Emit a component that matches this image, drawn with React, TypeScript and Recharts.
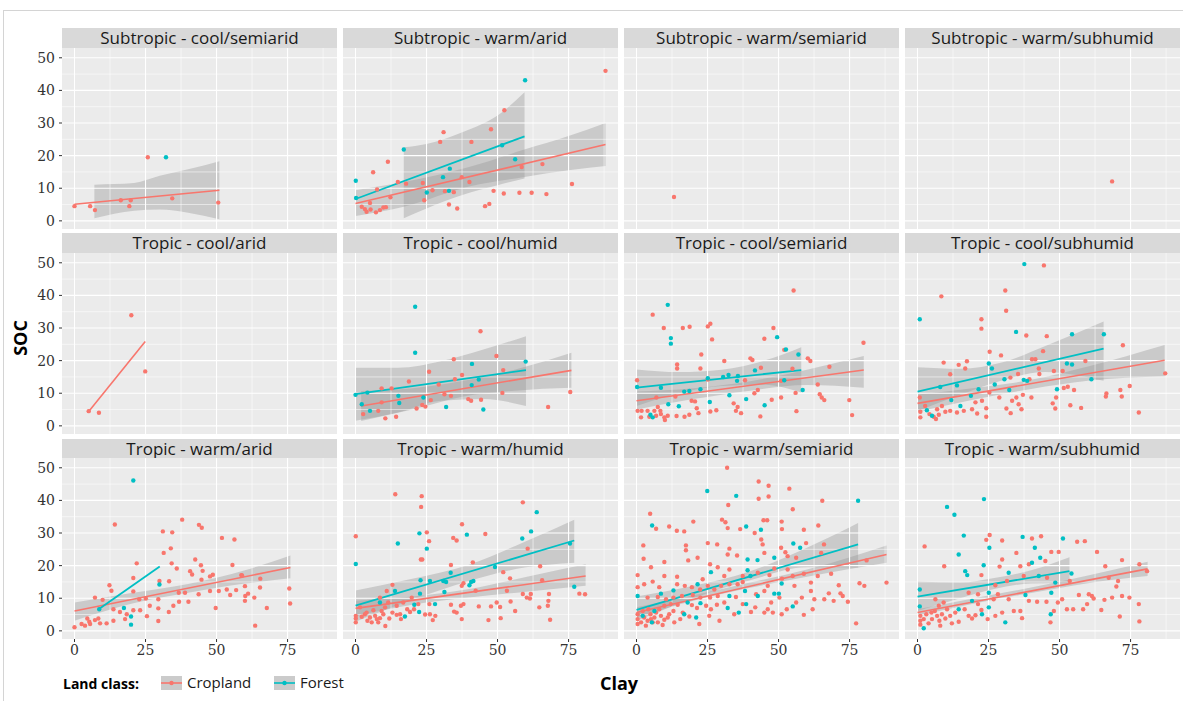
import React from 'react';
import { ComposedChart, Scatter, Line, Area, XAxis, YAxis, ReferenceLine } from 'recharts';

// ---------- colours / scales ----------
const CROP = '#F8766D';
const FOREST = '#00BFC4';
const X_DOMAIN: [number, number] = [-4.4, 92.4];
const Y_DOMAIN: [number, number] = [-2.5, 53];
const xTicks = [0, 25, 50, 75];
const yTicks = [0, 10, 20, 30, 40, 50];
const xMinor = [12.5, 37.5, 62.5, 87.5];
const yMinor = [5, 15, 25, 35, 45];

const panelTitles = [
  'Subtropic - cool/semiarid', 'Subtropic - warm/arid', 'Subtropic - warm/semiarid', 'Subtropic - warm/subhumid',
  'Tropic - cool/arid', 'Tropic - cool/humid', 'Tropic - cool/semiarid', 'Tropic - cool/subhumid',
  'Tropic - warm/arid', 'Tropic - warm/humid', 'Tropic - warm/semiarid', 'Tropic - warm/subhumid',
];

type Pt = [number, number];
type Bd = [number, number, number];

// ---------- Subtropic - cool/semiarid ----------
const p1Crop: Pt[] = [[0,4.5],[5.5,4.5],[7.2,3.3],[16.3,6.3],[19.8,6.3],[19.3,4.5],[25.8,19.5],[34.4,6.9],[50.6,5.6]];
const p1Forest: Pt[] = [[32.2,19.5]];
const p1CropFit: Pt[] = [[0,5.1],[51,9.4]];
const p1CropBand: Bd[] = [[7,0.8,11.1],[14,2.2,11.3],[21,3.1,11.6],[30,3.5,13.8],[40,2.5,15.8],[51,0.5,18.3]];

// ---------- Subtropic - warm/arid ----------
const p2Forest: Pt[] = [[0.1,12.3],[17,21.9],[59.7,43.1],[33.2,16],[30.8,13.4],[25.1,8.7],[32.9,9.2],[56.2,18.9],[51.6,23.2],[0.2,7]];
const p2Crop: Pt[] = [[88,46],[52.4,33.9],[47.7,28.1],[31,27.2],[29.8,24.2],[40.8,24.2],[11.4,18.1],[6.2,14.9],[14.9,11.9],[17.8,11.4],[23.7,11.6],[27.1,9.4],[37.4,13.4],[40.1,11.9],[58.5,16.5],[65.8,17.4],[76.2,11.3],[24.2,6.3],[31.5,9.1],[34.6,8.8],[32.9,5],[35.8,3.8],[45.6,4.5],[47.1,5.2],[48.6,9.2],[52.2,8.4],[57.7,8.6],[62,8.6],[67.2,8.2],[7.6,9.6],[12.3,7.2],[2.2,4.3],[3.9,2.8],[5.1,5.5],[7.2,2.6],[8.6,3.3],[9.8,4.1],[5.3,3.5],[10.7,4.2],[3.3,3.6]];
const p2ForestFit: Pt[] = [[0,6.7],[59.5,25.9]];
const p2CropFit: Pt[] = [[0,5.3],[88,23.4]];
const p2CropBand: Bd[] = [[0,1.5,9.4],[17,4.3,11.9],[40,10.5,16.5],[60,13.5,22],[75,15.5,26],[88,16.8,30]];
const p2ForestBand: Bd[] = [[17,0.8,22.6],[25,3.8,23.6],[37.6,7.9,27.2],[50,10.9,32.3],[59.5,13,39.4]];

// ---------- Subtropic - warm/semiarid & warm/subhumid ----------
const p3Crop: Pt[] = [[13.2,7.3]];
const p4Crop: Pt[] = [[68.5,12.1]];

// ---------- Tropic - cool/arid ----------
const p5Crop: Pt[] = [[5,4.5],[8.6,4],[20,33.9],[24.9,16.7]];
const p5CropFit: Pt[] = [[5,4.4],[24.9,25.9]];

// ---------- Tropic - cool/humid ----------
const p6Forest: Pt[] = [[0,9.5],[21,36.5],[21,22.4],[41,19],[59.9,19.7],[31.9,5.8],[45,5],[23.9,8.7],[15.1,9.2],[15.4,7],[2.2,6.6],[4.2,10.2],[5.1,4.6],[43.4,14.2],[40.9,12.5]];
const p6Crop: Pt[] = [[44,29],[34.6,20.4],[49.6,21.4],[25.9,16.6],[37.5,15.6],[52,17.1],[18.8,13.6],[9.2,11.5],[12.7,11.5],[35,14.3],[29.3,12.7],[26.5,7.9],[31.3,9.7],[33.6,9.2],[39.7,8.2],[40.7,7.7],[44.2,8],[51.7,10.1],[75.6,10.4],[67.8,5.8],[21.5,5.3],[23.5,6.4],[24.6,5.9],[10.5,2.3],[14.3,2.8],[8,4.6],[2.7,3.6],[9.2,7.2]];
const p6ForestFit: Pt[] = [[0,9.7],[60,17.1]];
const p6CropFit: Pt[] = [[2,6.1],[76,17]];
const p6ForestBand: Bd[] = [[0,1.6,17.8],[15,4.1,17.8],[30,7.7,19.8],[45,8.2,23.4],[60,6.1,27.5]];
const p6CropBand: Bd[] = [[2,1.5,10.7],[20,5,11.5],[38,9,13.8],[56,10.8,17.2],[76,11.7,22.4]];

// ---------- Tropic - cool/semiarid ----------
const p7Forest: Pt[] = [[11,37.1],[12.1,26.9],[12.1,25.2],[49.5,27.2],[52.6,23.4],[57,21.9],[41.7,17],[0.2,11.9],[8.6,11.7],[16.8,10.5],[18.6,10.7],[22.5,11.2],[25.1,14.6],[30.5,15],[32.4,15.6],[35.7,15.3],[35.4,13.8],[32.7,9.4],[38.6,8.2],[45.1,6.3],[25.8,7.3],[14.9,6],[11.2,6.6],[4.9,3.4],[5.7,2.6],[58.5,11],[52,14]];
const p7Crop: Pt[] = [[55.3,41.5],[5.7,34.1],[9.6,30],[16.3,30],[18.7,30.4],[25.1,30.5],[26,31.3],[26.6,26.5],[45,26.7],[48.2,30],[52,23.3],[79.9,25.5],[22.8,21.9],[30.9,19.9],[40.1,20.7],[40.8,20.2],[60.3,20.7],[61.2,19.9],[67.9,18.1],[14.3,18.8],[14.3,17.6],[22.5,17.6],[43.8,17.8],[54.9,17.5],[0.2,14],[25.1,14.2],[38.2,14],[50.9,13.8],[63.8,12.7],[7,8.7],[13.7,9],[19.4,7.7],[20.6,7.5],[34.2,6.9],[35.6,5.8],[41.5,10],[42.7,11],[47.6,8],[50.9,8.7],[56,10.1],[56.3,4.5],[64.5,9.7],[65.2,8.7],[66.1,7.9],[74.9,7.9],[75.9,3.3],[43.6,2.9],[36.8,3.9],[35,4.6],[28.1,4.8],[26,4.4],[21.8,3.9],[21.2,5.4],[18.6,3.4],[16.9,2.8],[14.1,3],[11,3.1],[9.8,2.6],[10,1.8],[8.4,4.6],[7.5,5.8],[6.3,4.6],[3.9,4.6],[1.8,4.6],[0.4,4.6],[1.6,2.6],[6.9,3.1],[8.6,3.6],[4.5,2.8]];
const p7ForestFit: Pt[] = [[0,11.7],[58,17.1]];
const p7CropFit: Pt[] = [[0,7.7],[80,17.1]];
const p7ForestBand: Bd[] = [[0,6.1,17.3],[15,10,16.5],[30,12.2,17.2],[45,12.6,20],[58,10.2,24.1]];
const p7CropBand: Bd[] = [[0,5,10.5],[20,8.2,11.5],[40,10.8,13.7],[60,12.5,17.2],[80,11.7,21.4]];

// ---------- Tropic - cool/subhumid ----------
const p8Forest: Pt[] = [[37.6,49.6],[0.8,32.7],[34.7,28.8],[54.4,28.1],[65.6,28.1],[25.1,19.1],[26.2,17.6],[27.2,12.7],[30.6,14.3],[38.6,13.8],[37.4,14.1],[52.6,19.1],[54.4,18.8],[61.2,14.3],[49.1,11.2],[21.5,11.2],[13.9,12.4],[8,11.9],[18.8,9.2],[11.9,7.9],[15.1,6.1],[3.3,4.8],[5.1,3.1],[32.3,11]];
const p8Crop: Pt[] = [[44.5,49.2],[8.4,39.7],[30.9,41.5],[31.2,35.3],[22.5,32.7],[22.5,29.8],[38.3,27.7],[45.5,27.5],[72.3,24.7],[25.4,22.7],[29.4,21.6],[44.2,22.9],[9.2,19.4],[14.5,18.7],[17.4,19.8],[16.8,17.6],[11.5,15.8],[40.3,20.4],[41.5,20.4],[42.7,17.6],[35.4,15.9],[32.7,14.8],[48,16.8],[51.1,16.8],[59.1,19.9],[87.2,16.1],[39.4,14.3],[42.9,15.9],[51.5,11.6],[52.9,12],[55.1,11],[74.7,12.2],[71.4,11],[71.9,9],[66.5,9.9],[66.3,9],[77.9,4.1],[57.6,5.5],[53.8,6.3],[48.8,8.7],[47.6,6.9],[48.5,5.3],[40.1,8.7],[37.1,9.5],[34.8,8.7],[33.3,7.7],[35.6,6.6],[36.6,5.1],[32.8,3.9],[31.3,5.3],[28.8,8.7],[25.3,10.2],[22.7,7.7],[24.2,5.4],[21,3.8],[24.2,2.8],[19.2,5.1],[16.3,4.6],[13.9,4.1],[11.5,4.6],[9.8,4.3],[7.5,3.4],[6.5,2.1],[5.7,2.8],[4.2,3.6],[2.7,6.1],[1,4.3],[1,2.6],[0.8,8.7],[8.6,6.1],[6.9,5.1],[20.4,7.2]];
const p8ForestFit: Pt[] = [[0,10.5],[65.5,23.7]];
const p8CropFit: Pt[] = [[0,6.9],[87,20.1]];
const p8ForestBand: Bd[] = [[0,4.5,18],[15,9.5,17.5],[30,14,19.5],[45,16.5,24.5],[65.5,13.8,32]];
const p8CropBand: Bd[] = [[0,4.3,9.6],[20,8.1,11.6],[40,11.3,14.1],[60,13.8,18.2],[87,15.2,24.8]];

// ---------- Tropic - warm/arid ----------
const p9Forest: Pt[] = [[20.7,46.1],[29.9,14.2],[17.4,7],[19.9,4.4],[19.9,1.9],[8.7,6.6]];
const p9Crop: Pt[] = [[0,1.1],[7.2,10.2],[9.9,9.5],[14.2,32.6],[12.3,14],[13,12.3],[21.9,20.7],[20.7,16.2],[20.7,12.1],[31.1,30.5],[34.4,30.2],[37.9,34.1],[31.4,23.9],[33.9,25.3],[34.2,20.7],[36,19.1],[43.8,32.5],[44.8,31.6],[51.9,28.5],[56.3,28],[42.5,21.9],[40.7,18.3],[41.4,17.3],[44.5,20.1],[45.1,18.4],[48.7,17.2],[47.7,16.7],[44.7,15.7],[55.6,20.2],[58.7,17.1],[29.9,15.3],[33.3,15.2],[38.9,11.7],[43.7,11.2],[47.7,12.2],[50.8,12.2],[53.6,12.7],[54.8,11],[56.9,12.5],[60,13.7],[60.1,10.7],[61.1,11.4],[60,9.2],[59,17],[65.3,13.3],[65.4,16],[63.3,10.2],[63.6,1.6],[67.7,7],[75.6,13],[75.9,8.4],[34.8,7.7],[33.2,5.8],[29.5,9.7],[29.5,6.9],[29.5,3],[36.7,11.7],[36.8,8.9],[40.1,8.9],[49.7,7],[26.5,7.7],[25.5,4.5],[25.1,9.9],[23.1,6.3],[20.7,6.3],[16,5.8],[18.4,5.1],[13.7,6.6],[13.7,3.1],[11.3,2.3],[9,2.3],[8.4,3.8],[7.2,3.3],[5.5,2.1],[4.5,3.8],[3.7,1.6],[2.5,2.1],[5.2,2.8],[17.8,3.6],[22.8,9.7]];
const p9ForestFit: Pt[] = [[8.5,6.6],[30,19.7]];
const p9CropFit: Pt[] = [[0,6.1],[76,19.4]];
const p9CropBand: Bd[] = [[0,3.1,8.7],[20,8.3,11.6],[40,11.7,14.4],[60,14.5,18.6],[76,16.1,23.1]];

// ---------- Tropic - warm/humid ----------
const p10Forest: Pt[] = [[0.1,20.5],[63.8,36.4],[61.8,30.5],[58.7,28.3],[39.2,29.5],[22.5,29.9],[25.1,25.2],[14.9,26.8],[75.5,26.8],[77,13.5],[49.1,19.6],[33.5,17.8],[30.9,15.3],[26.2,15.3],[22.9,15.5],[13.9,12.2],[22.7,11.4],[31.3,11.9],[40.1,14],[40.7,15],[41.5,15.3],[31.9,15],[20.7,8],[28,8.2],[17.4,4.4],[22.4,5.8],[8.6,8.7]];
const p10Crop: Pt[] = [[14,41.9],[23.3,41.3],[23.1,38],[58.9,39.4],[0.1,29],[25.1,30.2],[25.9,27.5],[37.5,32.7],[45.7,29.7],[34.4,28.5],[35.6,27.7],[23,21.9],[23.5,21.9],[33.6,20.2],[41.3,21],[60.6,25.2],[65,19.8],[54.4,16.1],[65.7,15.5],[52,18],[42.3,12.3],[53.3,12.3],[13,14.1],[11,12.2],[38,14.6],[37.4,13.8],[58.9,11.3],[61.7,11.3],[68.1,11.3],[78.8,11.4],[80.8,11.2],[60.3,10.2],[61.4,9.9],[67.9,9.2],[67.7,7.7],[64.7,7.2],[54.6,9],[56.2,6.1],[51.1,3.9],[46.8,3.3],[68.5,3.4],[49.7,8.7],[47.7,7.5],[43.4,7.5],[50.9,7.3],[38,8.2],[37.1,7.7],[33.6,8],[35.6,5.6],[37.4,3.6],[34.7,5.9],[28.1,4.6],[27.2,3.3],[26,8.2],[26.2,5.1],[24.5,5],[22.1,8.2],[20.6,6.6],[19.2,5.8],[18.2,6.6],[15.7,5.1],[16,3.6],[14.5,4.9],[13,5.6],[11.9,3.8],[10.5,1.5],[9.8,5.1],[8.6,3.9],[7.5,3.6],[6.9,4.6],[5.7,2.6],[5.1,4.1],[4.2,3.1],[3.3,5.1],[2.2,4.3],[0.1,3.8],[0.1,2.6],[0.1,4.6],[6.3,6.3],[3.9,5.6],[8,2.6],[9.2,6.1],[10.4,7.2],[11.5,8.7],[14.5,7.7],[16.8,8.7],[19.8,10.2],[8.6,10.2],[1.6,7.2]];
const p10ForestFit: Pt[] = [[0,7.7],[77,27.7]];
const p10CropFit: Pt[] = [[0,6.9],[81,16.8]];
const p10ForestBand: Bd[] = [[0,2.8,12.4],[20,9.5,16],[40,15.3,20.3],[60,19.5,27.5],[77,20.9,34.1]];
const p10CropBand: Bd[] = [[0,4.5,9.2],[20,8,10.5],[40,10.2,12.8],[60,12,16.5],[81,13.8,20.4]];

// ---------- Tropic - warm/semiarid ----------
const p11Forest: Pt[] = [[24.9,42.9],[35.1,41.4],[78,39.9],[5.5,32.3],[38.6,32],[43.8,31],[57.6,25.5],[55.2,26.8],[39.1,21.9],[42.6,21.7],[48.5,22.4],[39.1,18.6],[40.1,16.8],[26.2,18],[21.5,14.3],[13,12.4],[8.6,11.4],[0.4,10.7],[18,8.7],[22.5,8.5],[32.1,7],[36,5.6],[38.6,8.2],[38.2,12.2],[32.7,10.7],[48.5,11.4],[51.1,14.5],[50.1,11.4],[55,7.5],[42.7,10.7],[21,4.1],[5.4,2.6],[2.2,4.6],[6.3,6.1],[16.8,5.1]];
const p11Crop: Pt[] = [[31.9,50],[43,45.8],[46.5,44.5],[53.8,43.6],[43,40.5],[46.5,41.2],[65.4,39.9],[32.3,38.6],[55,37.3],[4.8,35.9],[30.1,34.1],[31.3,33.3],[20,33.5],[44.7,33.9],[46,33.9],[51.1,33.5],[64,32.3],[11.5,32],[6.9,31.3],[32.1,31.5],[36.5,31.2],[51.2,31.2],[14.2,30.7],[16.8,30.5],[41.6,30],[58.9,31],[25.1,26.9],[28.4,26.5],[32.7,25.2],[2.4,26.2],[17.4,26.2],[17.4,24.7],[43.9,28],[44.4,26.5],[50.9,25.5],[52.4,24.1],[59.7,26.9],[66,26.5],[2.5,22.1],[18.2,21.6],[21.5,22.4],[32.1,23.4],[35.4,23.1],[25.9,20.4],[5.1,19.5],[9.8,21.1],[28.6,19.5],[32.7,18.8],[45,23.9],[53.2,22.9],[56.2,22.4],[65,23.9],[42.7,17.8],[46.8,17.1],[55,16.8],[58.9,17.5],[68.5,17.5],[81,21.6],[78.5,14.6],[80.2,13.8],[88,14.8],[71.2,14],[67.7,11.5],[71.8,11.5],[72.6,10.7],[66.1,9.7],[74.4,8.9],[69.4,9.2],[62.6,9.7],[61.4,12.2],[58.2,10.2],[58.9,4.9],[77.3,2.3],[62,6.6],[56.2,8.7],[52.9,6.6],[51.1,5.1],[50.3,10.2],[47.4,8.7],[46.2,6.6],[48,5.6],[45,5.6],[41.8,7.2],[42.1,11.2],[45,12.2],[46.2,13.8],[51.2,16],[35.6,14.3],[32.7,14.3],[29.8,13.8],[27.4,12.7],[25.1,13.8],[22.4,12.7],[19.5,13.4],[17,13.8],[14.3,14.3],[14.3,16.6],[9.8,16.8],[0.4,17.1],[0.4,13.4],[5.7,15.1],[8,13.4],[2.7,14.3],[37.4,16.8],[30.9,16.8],[23.3,15.8],[28.6,10.7],[25.9,10.2],[22.5,10.2],[19.8,11],[16,10.7],[13,10.2],[10.4,9.7],[7.5,10.4],[3.9,10.2],[35,10.4],[30.9,8.7],[28.3,8],[26.2,6.6],[24.5,7.7],[21.3,7],[19.5,7.9],[14.5,8],[12.1,8.2],[9.8,7.7],[40.3,5.8],[37.4,8.2],[34.4,5.1],[29.2,3.1],[25.6,4.6],[22.1,2.1],[18.6,4.4],[15.4,3.6],[13.3,2.6],[11.5,5.1],[9.8,3.4],[8.6,4.6],[7.5,2.6],[6.3,4.1],[4.9,5.1],[3.9,3.1],[2.7,4.1],[1.6,2.6],[0.4,3.6],[0.4,5.1],[0.4,2.1],[2.2,6.1],[4.2,6.6],[5.7,2.6],[6.9,5.6],[8,6.6],[9.2,1.8],[11,4.1],[13,6.1],[3.3,1.6],[5.1,3.6],[16.3,5.6],[37.4,15],[55.6,13.8],[61.4,14.8],[63.8,16.8],[53.2,18.8],[48.5,19.1]];
const p11ForestFit: Pt[] = [[0,6.4],[78,26.5]];
const p11CropFit: Pt[] = [[0,5.6],[88,23.4]];
const p11ForestBand: Bd[] = [[0,3,10.5],[20,10,13.8],[40,15.5,18.3],[60,19.5,25.5],[78,19.4,33.1]];
const p11CropBand: Bd[] = [[0,4.1,7.2],[20,9.2,10.9],[40,13.2,14.8],[60,16.6,18.8],[88,20.9,26.2]];

// ---------- Tropic - warm/subhumid ----------
const p12Forest: Pt[] = [[23.4,40.4],[10.4,38],[13,35.6],[16.3,29.2],[37,28.8],[51.2,28.3],[14.5,23.4],[41.3,25.5],[25.3,25.5],[23.3,20.1],[16.8,18.3],[17.5,17.1],[40.3,20.9],[43.2,22.4],[32.1,17.8],[42.7,16.8],[48.5,14.8],[54.2,17.6],[38,11],[47.1,11.7],[0.8,12.7],[0.8,7.5],[14.5,6.6],[19.2,9.2],[25.1,11.7],[22.7,5.1],[30.9,2.6],[46.9,5.1],[2.2,0.8],[25.1,7.2]];
const p12Crop: Pt[] = [[2.5,25.9],[9.4,19.8],[25.4,29.4],[24.2,27.9],[29.8,27.7],[40.3,28.3],[43.5,29],[56.2,27.3],[58.9,27.5],[34.8,23.9],[47.1,24.2],[49.7,24.2],[63.2,24.2],[72,21.7],[78.1,20.4],[80.8,18.3],[66.1,19.8],[29.8,21.9],[36.2,19.8],[39.2,20.4],[45,21.4],[28.9,19.7],[22.5,17.1],[27.4,14],[31.5,15.3],[37.4,16.8],[45.6,16.3],[53.6,15.3],[67.3,16.3],[70.6,15.3],[70,13.6],[56.8,11],[61.4,10.7],[68.5,10.2],[72,10.7],[74.6,10.2],[77.9,8.2],[78.1,2.9],[71.2,4.4],[65.8,9.5],[62,9.9],[59.7,8.2],[58.3,6.6],[64.7,6.4],[54.8,6.6],[52.6,6.6],[50.9,9.7],[49.4,8.7],[48,6.1],[46.8,2.6],[45.4,8.9],[42.1,8.9],[39.2,9.2],[36.2,6.1],[36.8,3.9],[33.9,6.1],[29.8,5.6],[27.4,4.6],[24.7,3.6],[22.5,6.4],[20.4,4.8],[18,4.6],[16.6,6.6],[14.5,2.8],[12.1,2.3],[11.5,4.6],[9.8,3.8],[8.6,5.1],[7.7,3.1],[6.9,4.6],[6.1,6.1],[5.1,3.6],[3.9,2.3],[3.1,5.1],[2.2,3.6],[1,3.1],[1,4.6],[1,1.9],[7.5,7.7],[9.2,8.7],[10.4,6.6],[4.9,5.6],[8,1.6],[13.3,5.6],[19.2,3.8],[21.3,8.2],[26.8,9.7],[32.1,9.7],[28.3,11.2],[21.3,11.2],[18,11.7],[6.3,9.7],[60.3,11.2]];
const p12ForestFit: Pt[] = [[0,10.5],[53.5,18.3]];
const p12CropFit: Pt[] = [[0,5.6],[81,19]];
const p12ForestBand: Bd[] = [[0,6.1,15.1],[15,10,14.8],[27,12.8,16.2],[40,14.5,18.6],[53.5,14.6,22.6]];
const p12CropBand: Bd[] = [[0,4.6,6.6],[20,8.4,10],[40,11.6,13.3],[60,14.6,17],[81,16.8,21.2]];

type PanelDef = {
  crop: Pt[]; forest: Pt[];
  cropFit?: Pt[]; forestFit?: Pt[];
  cropBand?: Bd[]; forestBand?: Bd[];
};

const panelData: PanelDef[] = [
  { crop: p1Crop, forest: p1Forest, cropFit: p1CropFit, cropBand: p1CropBand },
  { crop: p2Crop, forest: p2Forest, cropFit: p2CropFit, forestFit: p2ForestFit, cropBand: p2CropBand, forestBand: p2ForestBand },
  { crop: p3Crop, forest: [] },
  { crop: p4Crop, forest: [] },
  { crop: p5Crop, forest: [], cropFit: p5CropFit },
  { crop: p6Crop, forest: p6Forest, cropFit: p6CropFit, forestFit: p6ForestFit, cropBand: p6CropBand, forestBand: p6ForestBand },
  { crop: p7Crop, forest: p7Forest, cropFit: p7CropFit, forestFit: p7ForestFit, cropBand: p7CropBand, forestBand: p7ForestBand },
  { crop: p8Crop, forest: p8Forest, cropFit: p8CropFit, forestFit: p8ForestFit, cropBand: p8CropBand, forestBand: p8ForestBand },
  { crop: p9Crop, forest: p9Forest, cropFit: p9CropFit, forestFit: p9ForestFit, cropBand: p9CropBand },
  { crop: p10Crop, forest: p10Forest, cropFit: p10CropFit, forestFit: p10ForestFit, cropBand: p10CropBand, forestBand: p10ForestBand },
  { crop: p11Crop, forest: p11Forest, cropFit: p11CropFit, forestFit: p11ForestFit, cropBand: p11CropBand, forestBand: p11ForestBand },
  { crop: p12Crop, forest: p12Forest, cropFit: p12CropFit, forestFit: p12ForestFit, cropBand: p12CropBand, forestBand: p12ForestBand },
];

// ---------- layout ----------
const COL_X = [62, 343, 624, 905];
const ROW_Y = [28, 233, 438.5];
const STRIP_H = 19.5;
const PANEL_W = 275;
const PANEL_H = 181;
const Y_AXIS_W = 62;
const X_AXIS_H = 30;

const SANS = '"Open Sans", "DejaVu Sans", sans-serif';
const SERIF = '"DejaVu Serif", serif';

const toPts = (a: Pt[]) => a.map(([x, y]) => ({ x, y }));
const toBand = (a: Bd[]) => a.map(([x, lo, hi]) => ({ x, band: [lo, hi] }));

const dot = (color: string) => (props: any) => (
  <circle cx={props.cx} cy={props.cy} r={2.2} fill={color} />
);

const tickStyle = { fontFamily: SERIF, fontSize: 14, fill: '#333333' };

function Panel({ idx }: { idx: number }) {
  const col = idx % 4;
  const row = Math.floor(idx / 4);
  const p = panelData[idx];
  const showY = col === 0;
  const showX = row === 2;
  const left = COL_X[col] - (showY ? Y_AXIS_W : 0);
  const top = ROW_Y[row] + STRIP_H;
  const w = PANEL_W + (showY ? Y_AXIS_W : 0);
  const h = PANEL_H + (showX ? X_AXIS_H : 0);
  return (
    <>
      <div
        style={{
          position: 'absolute', left: COL_X[col], top: ROW_Y[row], width: PANEL_W, height: STRIP_H,
          background: '#D9D9D9', fontFamily: SANS, fontSize: 17, color: '#1A1A1A',
          textAlign: 'center', lineHeight: `${STRIP_H}px`, whiteSpace: 'nowrap',
        }}
      >
        {panelTitles[idx]}
      </div>
      <div style={{ position: 'absolute', left: COL_X[col], top, width: PANEL_W, height: PANEL_H, background: '#EBEBEB' }} />
      <div style={{ position: 'absolute', left, top }}>
        <ComposedChart width={w} height={h} margin={{ top: 0, right: 0, bottom: 0, left: 0 }}>
          <XAxis
            type="number" dataKey="x" domain={X_DOMAIN} ticks={xTicks} allowDataOverflow interval={0}
            hide={!showX} height={X_AXIS_H} axisLine={false} tickSize={3} tickMargin={3}
            tickLine={{ stroke: '#333333' }} tick={tickStyle}
          />
          <YAxis
            type="number" dataKey="y" domain={Y_DOMAIN} ticks={yTicks} allowDataOverflow interval={0}
            hide={!showY} width={Y_AXIS_W} axisLine={false} tickSize={3} tickMargin={4}
            tickLine={{ stroke: '#333333' }} tick={tickStyle}
          />
          {xMinor.map((v) => <ReferenceLine key={'xn' + v} x={v} stroke="#FFFFFF" strokeWidth={0.55} />)}
          {yMinor.map((v) => <ReferenceLine key={'yn' + v} y={v} stroke="#FFFFFF" strokeWidth={0.55} />)}
          {xTicks.map((v) => <ReferenceLine key={'xj' + v} x={v} stroke="#FFFFFF" strokeWidth={1.1} />)}
          {yTicks.map((v) => <ReferenceLine key={'yj' + v} y={v} stroke="#FFFFFF" strokeWidth={1.1} />)}
          <Scatter name="Cropland" data={toPts(p.crop)} fill={CROP} shape={dot(CROP)} isAnimationActive={false} />
          {p.forest.length > 0 && (
            <Scatter name="Forest" data={toPts(p.forest)} fill={FOREST} shape={dot(FOREST)} isAnimationActive={false} />
          )}
          {p.cropBand && (
            <Area data={toBand(p.cropBand)} dataKey="band" type="monotone" stroke="none" fill="#999999" fillOpacity={0.4} isAnimationActive={false} />
          )}
          {p.forestBand && (
            <Area data={toBand(p.forestBand)} dataKey="band" type="monotone" stroke="none" fill="#999999" fillOpacity={0.4} isAnimationActive={false} />
          )}
          {p.cropFit && (
            <Line data={toPts(p.cropFit)} dataKey="y" stroke={CROP} strokeWidth={1.6} dot={false} isAnimationActive={false} />
          )}
          {p.forestFit && (
            <Line data={toPts(p.forestFit)} dataKey="y" stroke={FOREST} strokeWidth={1.8} dot={false} isAnimationActive={false} />
          )}
        </ComposedChart>
      </div>
    </>
  );
}

function LegendKey({ color, left }: { color: string; left: number }) {
  return (
    <svg style={{ position: 'absolute', left, top: 676 }} width={21} height={14}>
      <rect x={0} y={0} width={21} height={14} fill="#CBCBCB" />
      <line x1={0} y1={7} x2={21} y2={7} stroke={color} strokeWidth={1.6} />
      <circle cx={10.5} cy={7} r={2.2} fill={color} />
    </svg>
  );
}

export default function App() {
  return (
    <div style={{ position: 'absolute', left: 0, top: 0, width: 1183, height: 703, background: '#FFFFFF', overflow: 'hidden' }}>
      <div style={{ position: 'absolute', left: 3, top: 10, width: 1180, height: 690, borderTop: '1px solid #D4D4D4', borderLeft: '1px solid #D4D4D4' }} />
      {panelTitles.map((_, i) => <Panel key={i} idx={i} />)}
      <div
        style={{
          position: 'absolute', left: 20, top: 338, transform: 'translate(-50%, -50%) rotate(-90deg)',
          fontFamily: SANS, fontWeight: 700, fontSize: 18, color: '#000', whiteSpace: 'nowrap',
        }}
      >
        SOC
      </div>
      <div
        style={{
          position: 'absolute', left: 619, top: 683, transform: 'translate(-50%, -50%)',
          fontFamily: SANS, fontWeight: 700, fontSize: 18, color: '#000', whiteSpace: 'nowrap',
        }}
      >
        Clay
      </div>
      <div style={{ position: 'absolute', left: 63, top: 674, fontFamily: SANS, fontWeight: 700, fontSize: 14, color: '#000', whiteSpace: 'nowrap' }}>
        Land class:
      </div>
      <LegendKey color={CROP} left={161} />
      <div style={{ position: 'absolute', left: 187, top: 672, fontFamily: SANS, fontSize: 15, color: '#1A1A1A', whiteSpace: 'nowrap' }}>
        Cropland
      </div>
      <LegendKey color={FOREST} left={274} />
      <div style={{ position: 'absolute', left: 300, top: 672, fontFamily: SANS, fontSize: 15, color: '#1A1A1A', whiteSpace: 'nowrap' }}>
        Forest
      </div>
    </div>
  );
}
